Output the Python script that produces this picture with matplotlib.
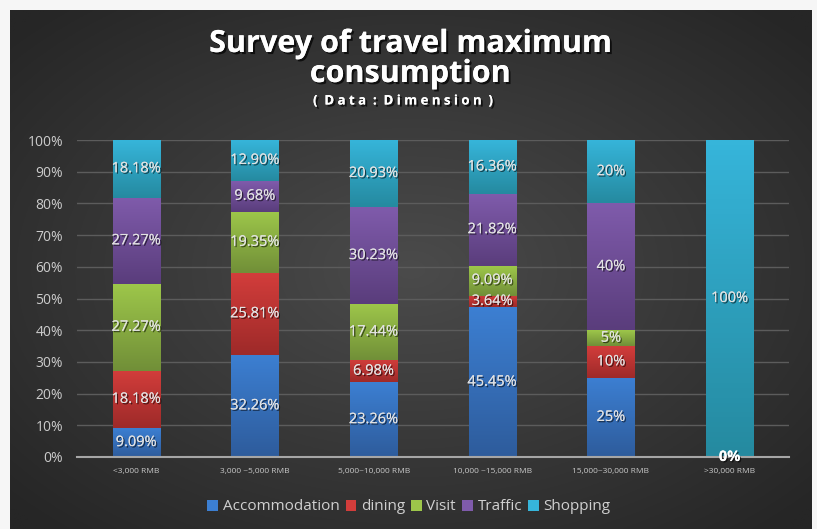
import numpy as np
import matplotlib
matplotlib.use("Agg")
import matplotlib.pyplot as plt
import matplotlib.patheffects as pe
from matplotlib.colors import to_rgb
from matplotlib.patches import Patch

categories = ['<3,000 RMB', '3,000 ~5,000 RMB', '5,000~10,000 RMB',
              '10,000 ~15,000 RMB', '15,000~30,000 RMB', '>30,000 RMB']
series = ['Accommodation', 'dining', 'Visit', 'Traffic', 'Shopping']
accommodation = [9.09, 32.26, 23.26, 45.45, 25, 0]
dining = [18.18, 25.81, 6.98, 3.64, 10, 0]
visit = [27.27, 19.35, 17.44, 9.09, 5, 0]
traffic = [27.27, 9.68, 30.23, 21.82, 40, 0]
shopping = [18.18, 12.90, 20.93, 16.36, 20, 100]
values = [accommodation, dining, visit, traffic, shopping]

# top / bottom colours of each gradient segment
top_colors = ['#3c7fd2', '#d23d3b', '#9dc64a', '#7f5bab', '#36b5da']
bot_colors = ['#2e5c9c', '#9e2a29', '#718f38', '#5a3d7c', '#258aa0']

plt.rcParams['font.family'] = ['Open Sans', 'DejaVu Sans']
W, H = 817, 529
fig = plt.figure(figsize=(W / 100, H / 100), dpi=100)
fig.patch.set_facecolor('#f6f6f6')

# dark panel with radial gradient
bg = fig.add_axes([10 / W, 0, 801 / W, 519 / H])
yy, xx = np.mgrid[-1:1:300j, -1:1:450j]
r = np.clip(np.sqrt(xx ** 2 + yy ** 2) / 1.35, 0, 1)
c0, c1 = np.array(to_rgb('#4b4b4b')), np.array(to_rgb('#262626'))
img = c0[None, None, :] * (1 - r[..., None]) + c1[None, None, :] * r[..., None]
bg.imshow(img, aspect='auto', extent=(0, 1, 0, 1))
bg.axis('off')

ax = fig.add_axes([77 / W, 1 - 457 / H, 712 / W, 317 / H])
ax.set_facecolor('none')
x = np.arange(len(categories))
width = 0.4
shadow = [pe.withSimplePatchShadow(offset=(1, -1), shadow_rgbFace='black', alpha=0.6), pe.Normal()]

# 100% stacked: each column is scaled to its own total
totals = np.sum(np.array(values, dtype=float), axis=0)

bottom = np.zeros(len(categories))
for i, name in enumerate(series):
    raw = np.array(values[i], dtype=float)
    vals = raw / totals * 100
    bars = ax.bar(x, vals, width, bottom=bottom, color=top_colors[i], label=name, zorder=2)
    grad = np.linspace(0, 1, 64)[:, None, None]
    cimg = (np.array(to_rgb(bot_colors[i])) * (1 - grad) + np.array(to_rgb(top_colors[i])) * grad)
    for b in bars:
        if b.get_height() <= 0:
            continue
        x0, y0 = b.get_x(), b.get_y()
        im = ax.imshow(cimg, aspect='auto', origin='lower', zorder=2.5,
                       extent=(x0, x0 + b.get_width(), y0, y0 + b.get_height()))
        im.set_clip_path(b)
    for j, v in enumerate(raw):
        if v == 0 and i > 0:
            continue
        txt = f"{v:.2f}%" if v != int(v) else f"{int(v)}%"
        ax.text(x[j], bottom[j] + vals[j] / 2, txt, ha='center', va='center', fontsize=10.5,
                color='#e2e2e2' if v else 'white', fontweight='normal' if v else 'bold',
                zorder=4, path_effects=shadow)
    bottom += vals

ax.set_xlim(-0.5, len(categories) - 0.5)
ax.set_ylim(0, 100)
ax.set_yticks(np.arange(0, 101, 10))
ax.set_yticklabels([f"{t}%" for t in range(0, 101, 10)])
ax.set_xticks(x)
ax.set_xticklabels(categories)
ax.tick_params(axis='y', length=0, labelsize=10, colors='#cccccc', pad=10)
ax.tick_params(axis='x', length=0, labelsize=6, colors='#c8c8c8', pad=8)
ax.grid(axis='y', color='#5c5c5c', linewidth=1, zorder=0)
for s in ['top', 'right', 'left']:
    ax.spines[s].set_visible(False)
ax.spines['bottom'].set_color('#a6a6a6')
ax.spines['bottom'].set_linewidth(1.5)
ax.spines['bottom'].set_zorder(3)

title_fx = [pe.withSimplePatchShadow(offset=(1.5, -1.5), shadow_rgbFace='black', alpha=0.7), pe.Normal()]
fig.text(410 / W, 1 - 59 / H, 'Survey of travel maximum\nconsumption', ha='center', va='center',
         fontsize=22, fontweight='bold', color='white', linespacing=1.0, path_effects=title_fx)
fig.text(404 / W, 1 - 101 / H, '(  D a t a  :  D i m e n s i o n  )', ha='center', va='center',
         fontsize=9.5, fontweight='bold', color='white', path_effects=title_fx)

handles = [Patch(facecolor=top_colors[i], label=series[i]) for i in range(len(series))]
leg = fig.legend(handles=handles, loc='center', bbox_to_anchor=(409 / W, 1 - 507 / H), ncol=5,
                 frameon=False, fontsize=11, handlelength=0.7, handleheight=0.7,
                 handletextpad=0.3, columnspacing=0.4, labelcolor='#d0d0d0')

fig.savefig('out.png', dpi=100, facecolor=fig.get_facecolor())
